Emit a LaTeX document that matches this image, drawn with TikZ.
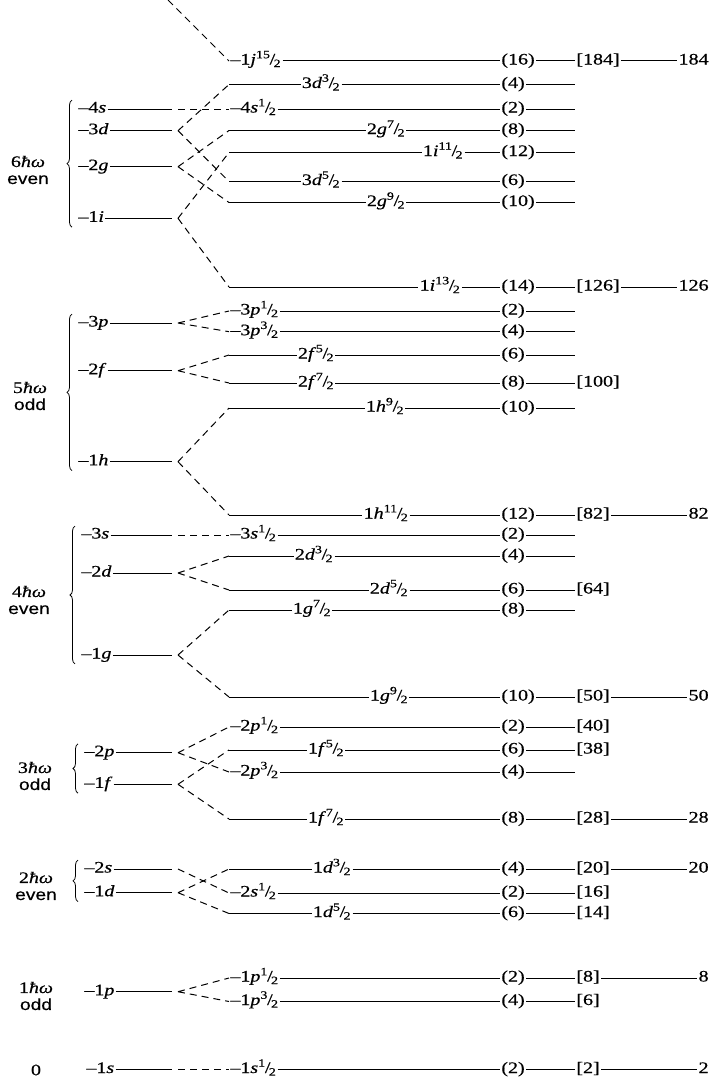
\documentclass[tikz,border=0pt]{standalone}
\usepackage{fontspec}
\setmainfont{Liberation Serif}[FakeStretch=1.25,FakeBold=0.6]
\setsansfont{Liberation Sans}[FakeStretch=1.2,FakeBold=0.4]
\usetikzlibrary{decorations.pathreplacing}
\newcommand{\hf}[1]{\textsuperscript{#1}\kern-.05em/\kern-.1em\textsubscript{2}}
\tikzset{
  lvl/.style={line width=1pt},
  split/.style={line width=1pt, dash pattern=on 7pt off 5pt},
  txt/.style={inner sep=1.2pt, text height=11pt, text depth=4pt, font=\fontsize{16}{18}\selectfont},
  grp/.style={align=center, inner sep=0pt, font=\fontsize{16}{17}\selectfont},
  shell/.style={decorate, decoration={brace, amplitude=5pt}, line width=0.8pt},
}
\begin{document}
\begin{tikzpicture}[x=1pt,y=-1pt]
\useasboundingbox (0,0) rectangle (714,1081);
\coordinate (top) at (168,0);
\coordinate (lend) at (172,0);
\coordinate (lfork) at (178,0);
\coordinate (rbeg) at (229,0);
\coordinate (stub) at (575,0);

\node[grp] (w6) at (28,170) {6\textit{ħω}\\\sffamily even};
\node[grp] (w5) at (30,396) {5\textit{ħω}\\\sffamily odd};
\node[grp] (w4) at (29,600) {4\textit{ħω}\\\sffamily even};
\node[grp] (w3) at (35,776) {3\textit{ħω}\\\sffamily odd};
\node[grp] (w2) at (36,886) {2\textit{ħω}\\\sffamily even};
\node[grp] (w1) at (36,996) {1\textit{ħω}\\\sffamily odd};
\node[grp] (w0) at (36,1070) {0};

\node[txt,right] (l4s) at (77,109) {\textendash4\textit{s}};
\node[txt,right] (l3d) at (77,130.7) {\textendash3\textit{d}};
\node[txt,right] (l2g) at (77,166.7) {\textendash2\textit{g}};
\node[txt,right] (l1i) at (77,218.3) {\textendash1\textit{i}};
\node[txt,right] (l3p) at (77,323) {\textendash3\textit{p}};
\node[txt,right] (l2f) at (77,370.7) {\textendash2\textit{f}};
\node[txt,right] (l1h) at (77,461.7) {\textendash1\textit{h}};
\node[txt,right] (l3s) at (80,535) {\textendash3\textit{s}};
\node[txt,right] (l2d) at (80,573) {\textendash2\textit{d}};
\node[txt,right] (l1g) at (80,655) {\textendash1\textit{g}};
\node[txt,right] (l2p) at (83,752.7) {\textendash2\textit{p}};
\node[txt,right] (l1f) at (83,784.3) {\textendash1\textit{f}};
\node[txt,right] (l2s) at (83,869) {\textendash2\textit{s}};
\node[txt,right] (l1d) at (83,892.7) {\textendash1\textit{d}};
\node[txt,right] (l1p) at (83,991.7) {\textendash1\textit{p}};
\node[txt,right] (l1s) at (85,1069.5) {\textendash1\textit{s}};

\draw[lvl] (l4s) -- (l4s -| lend) (l3d) -- (l3d -| lend) (l2g) -- (l2g -| lend) (l1i) -- (l1i -| lend);
\draw[lvl] (l3p) -- (l3p -| lend) (l2f) -- (l2f -| lend) (l1h) -- (l1h -| lend);
\draw[lvl] (l3s) -- (l3s -| lend) (l2d) -- (l2d -| lend) (l1g) -- (l1g -| lend);
\draw[lvl] (l2p) -- (l2p -| lend) (l1f) -- (l1f -| lend);
\draw[lvl] (l2s) -- (l2s -| lend) (l1d) -- (l1d -| lend);
\draw[lvl] (l1p) -- (l1p -| lend) (l1s) -- (l1s -| lend);

\draw[shell] ([xshift=-5pt]l1i.south west) -- ([xshift=-5pt]l4s.north west);
\draw[shell] ([xshift=-5pt]l1h.south west) -- ([xshift=-5pt]l3p.north west);
\draw[shell] ([xshift=-5pt]l1g.south west) -- ([xshift=-5pt]l3s.north west);
\draw[shell] ([xshift=-5pt]l1f.south west) -- ([xshift=-5pt]l2p.north west);
\draw[shell] ([xshift=-5pt]l1d.south west) -- ([xshift=-5pt]l2s.north west);

\node[txt,right] (j152) at (229,61) {\textendash1\textit{j}\hf{15}};
\node[txt,right] (j152n) at (500,61) {(16)};
\node[txt,right] (j152m) at (575,61) {[184]};
\node[txt,left] (j152k) at (710,61) {184};
\draw[lvl] (j152) -- (j152n) -- (j152m) -- (j152k);

\node[txt] (d32c) at (321,84.5) {3\textit{d}\hf{3}};
\node[txt,right] (d32cn) at (500,84.5) {(4)};
\draw[lvl] (d32c -| rbeg) -- (d32c) -- (d32cn) -- (d32cn -| stub);

\node[txt,right] (s12c) at (229,109) {\textendash4\textit{s}\hf{1}};
\node[txt,right] (s12cn) at (500,109) {(2)};
\draw[lvl] (s12c) -- (s12cn) -- (s12cn -| stub);

\node[txt] (g72b) at (386,130.5) {2\textit{g}\hf{7}};
\node[txt,right] (g72bn) at (500,130.5) {(8)};
\draw[lvl] (g72b -| rbeg) -- (g72b) -- (g72bn) -- (g72bn -| stub);

\node[txt] (i112) at (443,152.5) {1\textit{i}\hf{11}};
\node[txt,right] (i112n) at (500,152.5) {(12)};
\draw[lvl] (i112 -| rbeg) -- (i112) -- (i112n) -- (i112n -| stub);

\node[txt] (d52c) at (321,181.5) {3\textit{d}\hf{5}};
\node[txt,right] (d52cn) at (500,181.5) {(6)};
\draw[lvl] (d52c -| rbeg) -- (d52c) -- (d52cn) -- (d52cn -| stub);

\node[txt] (g92b) at (386,202.5) {2\textit{g}\hf{9}};
\node[txt,right] (g92bn) at (500,202.5) {(10)};
\draw[lvl] (g92b -| rbeg) -- (g92b) -- (g92bn) -- (g92bn -| stub);

\node[txt] (i132) at (440,287) {1\textit{i}\hf{13}};
\node[txt,right] (i132n) at (500,287) {(14)};
\node[txt,right] (i132m) at (575,287) {[126]};
\node[txt,left] (i132k) at (710,287) {126};
\draw[lvl] (i132 -| rbeg) -- (i132) -- (i132n) -- (i132m) -- (i132k);

\node[txt,right] (p12c) at (229,311) {\textendash3\textit{p}\hf{1}};
\node[txt,right] (p12cn) at (500,311) {(2)};
\draw[lvl] (p12c) -- (p12cn) -- (p12cn -| stub);

\node[txt,right] (p32c) at (229,331.7) {\textendash3\textit{p}\hf{3}};
\node[txt,right] (p32cn) at (500,331.7) {(4)};
\draw[lvl] (p32c) -- (p32cn) -- (p32cn -| stub);

\node[txt] (f52b) at (316,355) {2\textit{f}\hf{5}};
\node[txt,right] (f52bn) at (500,355) {(6)};
\draw[lvl] (f52b -| rbeg) -- (f52b) -- (f52bn) -- (f52bn -| stub);

\node[txt] (f72b) at (316,383) {2\textit{f}\hf{7}};
\node[txt,right] (f72bn) at (500,383) {(8)};
\node[txt,right] (f72bm) at (575,383) {[100]};
\draw[lvl] (f72b -| rbeg) -- (f72b) -- (f72bn) -- (f72bm);

\node[txt] (h92) at (385,408) {1\textit{h}\hf{9}};
\node[txt,right] (h92n) at (500,408) {(10)};
\draw[lvl] (h92 -| rbeg) -- (h92) -- (h92n) -- (h92n -| stub);

\node[txt] (h112) at (386,515) {1\textit{h}\hf{11}};
\node[txt,right] (h112n) at (500,515) {(12)};
\node[txt,right] (h112m) at (575,515) {[82]};
\node[txt,left] (h112k) at (710,515) {82};
\draw[lvl] (h112 -| rbeg) -- (h112) -- (h112n) -- (h112m) -- (h112k);

\node[txt,right] (s12b) at (229,535) {\textendash3\textit{s}\hf{1}};
\node[txt,right] (s12bn) at (500,535) {(2)};
\draw[lvl] (s12b) -- (s12bn) -- (s12bn -| stub);

\node[txt] (d32b) at (314,556) {2\textit{d}\hf{3}};
\node[txt,right] (d32bn) at (500,556) {(4)};
\draw[lvl] (d32b -| rbeg) -- (d32b) -- (d32bn) -- (d32bn -| stub);

\node[txt] (d52b) at (389,590) {2\textit{d}\hf{5}};
\node[txt,right] (d52bn) at (500,590) {(6)};
\node[txt,right] (d52bm) at (575,590) {[64]};
\draw[lvl] (d52b -| rbeg) -- (d52b) -- (d52bn) -- (d52bm);

\node[txt] (g72) at (312,610) {1\textit{g}\hf{7}};
\node[txt,right] (g72n) at (500,610) {(8)};
\draw[lvl] (g72 -| rbeg) -- (g72) -- (g72n) -- (g72n -| stub);

\node[txt] (g92) at (389,697) {1\textit{g}\hf{9}};
\node[txt,right] (g92n) at (500,697) {(10)};
\node[txt,right] (g92m) at (575,697) {[50]};
\node[txt,left] (g92k) at (710,697) {50};
\draw[lvl] (g92 -| rbeg) -- (g92) -- (g92n) -- (g92m) -- (g92k);

\node[txt,right] (p12b) at (229,727) {\textendash2\textit{p}\hf{1}};
\node[txt,right] (p12bn) at (500,727) {(2)};
\node[txt,right] (p12bm) at (575,727) {[40]};
\draw[lvl] (p12b) -- (p12bn) -- (p12bm);

\node[txt] (f52) at (326,750) {1\textit{f}\hf{5}};
\node[txt,right] (f52n) at (500,750) {(6)};
\node[txt,right] (f52m) at (575,750) {[38]};
\draw[lvl] (f52 -| rbeg) -- (f52) -- (f52n) -- (f52m);

\node[txt,right] (p32b) at (229,772) {\textendash2\textit{p}\hf{3}};
\node[txt,right] (p32bn) at (500,772) {(4)};
\draw[lvl] (p32b) -- (p32bn) -- (p32bn -| stub);

\node[txt] (f72) at (326,819) {1\textit{f}\hf{7}};
\node[txt,right] (f72n) at (500,819) {(8)};
\node[txt,right] (f72m) at (575,819) {[28]};
\node[txt,left] (f72k) at (710,819) {28};
\draw[lvl] (f72 -| rbeg) -- (f72) -- (f72n) -- (f72m) -- (f72k);

\node[txt] (d32a) at (332,869) {1\textit{d}\hf{3}};
\node[txt,right] (d32an) at (500,869) {(4)};
\node[txt,right] (d32am) at (575,869) {[20]};
\node[txt,left] (d32ak) at (710,869) {20};
\draw[lvl] (d32a -| rbeg) -- (d32a) -- (d32an) -- (d32am) -- (d32ak);

\node[txt,right] (s12a) at (229,893) {\textendash2\textit{s}\hf{1}};
\node[txt,right] (s12an) at (500,893) {(2)};
\node[txt,right] (s12am) at (575,893) {[16]};
\draw[lvl] (s12a) -- (s12an) -- (s12am);

\node[txt] (d52a) at (332,913.5) {1\textit{d}\hf{5}};
\node[txt,right] (d52an) at (500,913.5) {(6)};
\node[txt,right] (d52am) at (575,913.5) {[14]};
\draw[lvl] (d52a -| rbeg) -- (d52a) -- (d52an) -- (d52am);

\node[txt,right] (p12) at (229,978) {\textendash1\textit{p}\hf{1}};
\node[txt,right] (p12n) at (500,978) {(2)};
\node[txt,right] (p12m) at (575,978) {[8]};
\node[txt,left] (p12k) at (710,978) {8};
\draw[lvl] (p12) -- (p12n) -- (p12m) -- (p12k);

\node[txt,right] (p32) at (229,1001.5) {\textendash1\textit{p}\hf{3}};
\node[txt,right] (p32n) at (500,1001.5) {(4)};
\node[txt,right] (p32m) at (575,1001.5) {[6]};
\draw[lvl] (p32) -- (p32n) -- (p32m);

\node[txt,right] (s12) at (229,1069.5) {\textendash1\textit{s}\hf{1}};
\node[txt,right] (s12n) at (500,1069.5) {(2)};
\node[txt,right] (s12m) at (575,1069.5) {[2]};
\node[txt,left] (s12k) at (710,1069.5) {2};
\draw[lvl] (s12) -- (s12n) -- (s12m) -- (s12k);

\draw[split] (top) -- (j152.west);
\draw[split] (l4s -| lfork) -- (s12c.west);
\draw[split] (l3d -| lfork) -- (d32c -| rbeg) (l3d -| lfork) -- (d52c -| rbeg);
\draw[split] (l2g -| lfork) -- (g72b -| rbeg) (l2g -| lfork) -- (g92b -| rbeg);
\draw[split] (l1i -| lfork) -- (i112 -| rbeg) (l1i -| lfork) -- (i132 -| rbeg);

\draw[split] (l3p -| lfork) -- (p12c.west) (l3p -| lfork) -- (p32c.west);
\draw[split] (l2f -| lfork) -- (f52b -| rbeg) (l2f -| lfork) -- (f72b -| rbeg);
\draw[split] (l1h -| lfork) -- (h92 -| rbeg) (l1h -| lfork) -- (h112 -| rbeg);

\draw[split] (l3s -| lfork) -- (s12b.west);
\draw[split] (l2d -| lfork) -- (d32b -| rbeg) (l2d -| lfork) -- (d52b -| rbeg);
\draw[split] (l1g -| lfork) -- (g72 -| rbeg) (l1g -| lfork) -- (g92 -| rbeg);

\draw[split] (l2p -| lfork) -- (p12b.west) (l2p -| lfork) -- (p32b.west);
\draw[split] (l1f -| lfork) -- (f52 -| rbeg) (l1f -| lfork) -- (f72 -| rbeg);

\draw[split] (l2s -| lfork) -- (s12a.west);
\draw[split] (l1d -| lfork) -- (d32a -| rbeg) (l1d -| lfork) -- (d52a -| rbeg);

\draw[split] (l1p -| lfork) -- (p12.west) (l1p -| lfork) -- (p32.west);
\draw[split] (l1s -| lfork) -- (s12.west);
\end{tikzpicture}
\end{document}
